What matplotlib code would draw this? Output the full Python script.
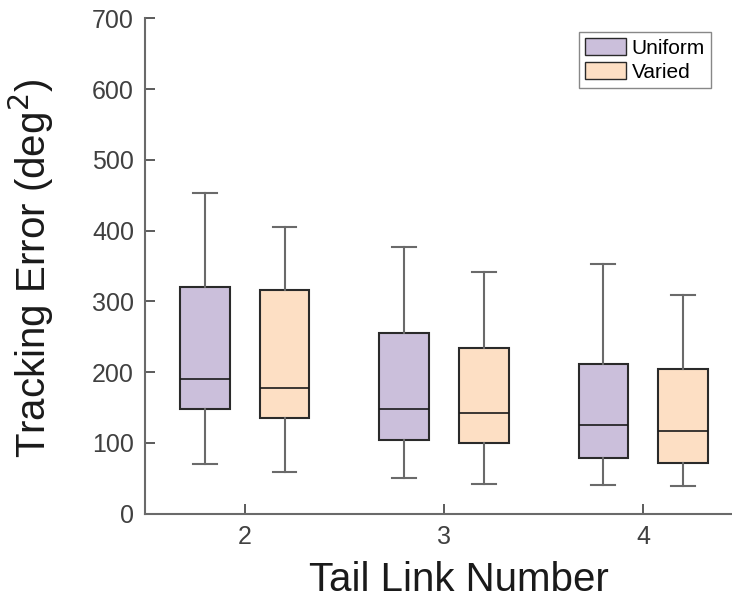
import matplotlib
matplotlib.use("Agg")
import matplotlib.pyplot as plt
from matplotlib.patches import Patch

plt.rcParams['font.family'] = ['Liberation Sans', 'DejaVu Sans']

# box statistics per tail link number: whisker low, Q1, median, Q3, whisker high
links = [2, 3, 4]
uniform_lo = [70, 50, 40]
uniform_q1 = [148, 104, 78]
uniform_med = [190, 148, 125]
uniform_q3 = [320, 255, 212]
uniform_hi = [453, 377, 353]

varied_lo = [59, 42, 39]
varied_q1 = [135, 99, 72]
varied_med = [177, 142, 116]
varied_q3 = [316, 234, 205]
varied_hi = [405, 341, 309]

yticks = [0, 100, 200, 300, 400, 500, 600, 700]


def make_stats(lo, q1, med, q3, hi):
    out = []
    for i in range(len(lo)):
        out.append(dict(whislo=lo[i], q1=q1[i], med=med[i], q3=q3[i],
                        whishi=hi[i], fliers=[]))
    return out


fig = plt.figure(figsize=(7.32, 6.01), dpi=100)
ax = fig.add_axes([145 / 732, 1 - 513.5 / 601, 1 - 145 / 732, 495 / 601])

axis_col = '#404040'
box_kw = dict(widths=0.25, capwidths=0.12, patch_artist=True, showfliers=False,
              medianprops=dict(color='#1a1a1a', lw=1.2),
              whiskerprops=dict(color='#6a6a6a', lw=1.5),
              capprops=dict(color='#6a6a6a', lw=1.5),
              manage_ticks=False)

b1 = ax.bxp(make_stats(uniform_lo, uniform_q1, uniform_med, uniform_q3, uniform_hi),
            positions=[x - 0.2 for x in links], **box_kw)
b2 = ax.bxp(make_stats(varied_lo, varied_q1, varied_med, varied_q3, varied_hi),
            positions=[x + 0.2 for x in links], **box_kw)
for p in b1['boxes']:
    p.set_facecolor('#cbbfdb')
    p.set_edgecolor('#2a2a2a')
    p.set_linewidth(1.5)
for p in b2['boxes']:
    p.set_facecolor('#fddfc4')
    p.set_edgecolor('#2a2a2a')
    p.set_linewidth(1.5)

ax.set_xlim(1.5, 4.445)
ax.set_ylim(0, 700)
ax.set_xticks(links)
ax.set_yticks(yticks)
ax.tick_params(direction='in', length=7, width=1.2, colors=axis_col,
               labelsize=18, pad=8)
for s in ['top', 'right']:
    ax.spines[s].set_visible(False)
for s in ['left', 'bottom']:
    ax.spines[s].set_color('#6a6a6a')
    ax.spines[s].set_linewidth(1.5)

ax.set_xlabel('Tail Link Number', fontsize=29, color='#1a1a1a')
ax.set_ylabel('Tracking Error (deg$^2$)', fontsize=29, color='#1a1a1a')
ax.xaxis.set_label_coords(0.535, -0.095)
ax.yaxis.set_label_coords(-0.152, 0.495)

handles = [Patch(facecolor='#cbbfdb', edgecolor='#2a2a2a', label='Uniform'),
           Patch(facecolor='#fddfc4', edgecolor='#2a2a2a', label='Varied')]
leg = ax.legend(handles=handles, loc='upper right', bbox_to_anchor=(0.9637, 0.972),
                fontsize=15, frameon=True, fancybox=False, edgecolor='#6a6a6a',
                handlelength=2.0, handleheight=0.87, handletextpad=0.25,
                borderpad=0.28, labelspacing=0.22, borderaxespad=0)
leg.get_frame().set_linewidth(1.0)

fig.savefig('out.png', dpi=100)
